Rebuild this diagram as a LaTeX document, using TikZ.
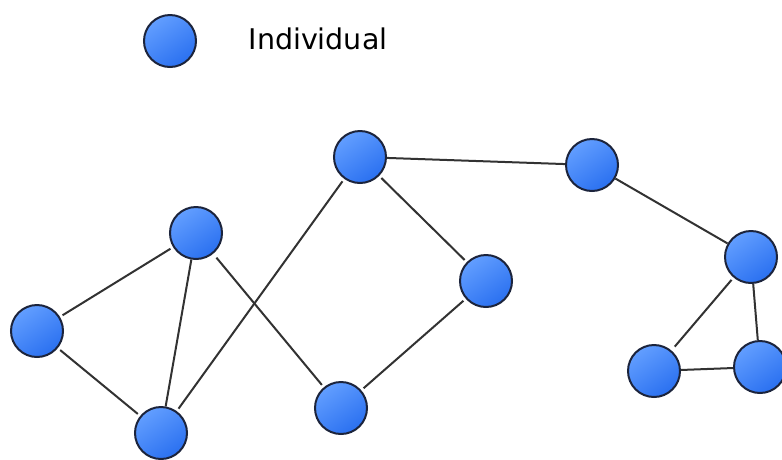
\documentclass[tikz,border=0pt]{standalone}
\usepackage{fontspec}
\setmainfont{DejaVu Sans}
\begin{document}
\begin{tikzpicture}[x=1pt,y=-1pt,
  indiv/.style={circle, draw=nodeborder, line width=2pt, minimum size=52pt, inner sep=0pt,
    top color=nodelight, bottom color=nodedark, shading angle=35},
  link/.style={draw=linkgray, line width=2pt}]
\definecolor{nodelight}{RGB}{98,158,255}
\definecolor{nodedark}{RGB}{42,112,240}
\definecolor{nodeborder}{RGB}{28,36,60}
\definecolor{linkgray}{RGB}{50,50,50}
\useasboundingbox (0,0) rectangle (782,459);
\node[indiv] (leg) at (170,41) {};
\node[anchor=center, font=\fontsize{28.5}{30}\selectfont] (legt) at (318,39) {Individual};
\node[indiv] (A) at (196,233) {};
\node[indiv] (B) at (37,331) {};
\node[indiv] (C) at (161,433) {};
\node[indiv] (D) at (360,157) {};
\node[indiv] (E) at (486,281) {};
\node[indiv] (F) at (341,408) {};
\node[indiv] (G) at (592,165) {};
\node[indiv] (H) at (751,257) {};
\node[indiv] (I) at (654,371) {};
\node[indiv] (J) at (760,367) {};
\begin{scope}[on background layer/.style={}]
\draw[link, shorten <=3pt, shorten >=3pt] (A) -- (B);
\draw[link, shorten <=3pt, shorten >=3pt] (B) -- (C);
\draw[link] (A) -- (C);
\draw[link, shorten <=5pt, shorten >=3pt] (A) -- (F);
\draw[link, shorten <=3pt, shorten >=3pt] (C) -- (D);
\draw[link, shorten <=3pt, shorten >=3pt] (D) -- (E);
\draw[link, shorten <=3pt, shorten >=3pt] (E) -- (F);
\draw[link] (D) -- (G);
\draw[link] (G) -- (H);
\draw[link, shorten <=3pt, shorten >=5pt] (H) -- (I);
\draw[link] (H) -- (J);
\draw[link] (I) -- (J);
\end{scope}
\end{tikzpicture}
\end{document}
